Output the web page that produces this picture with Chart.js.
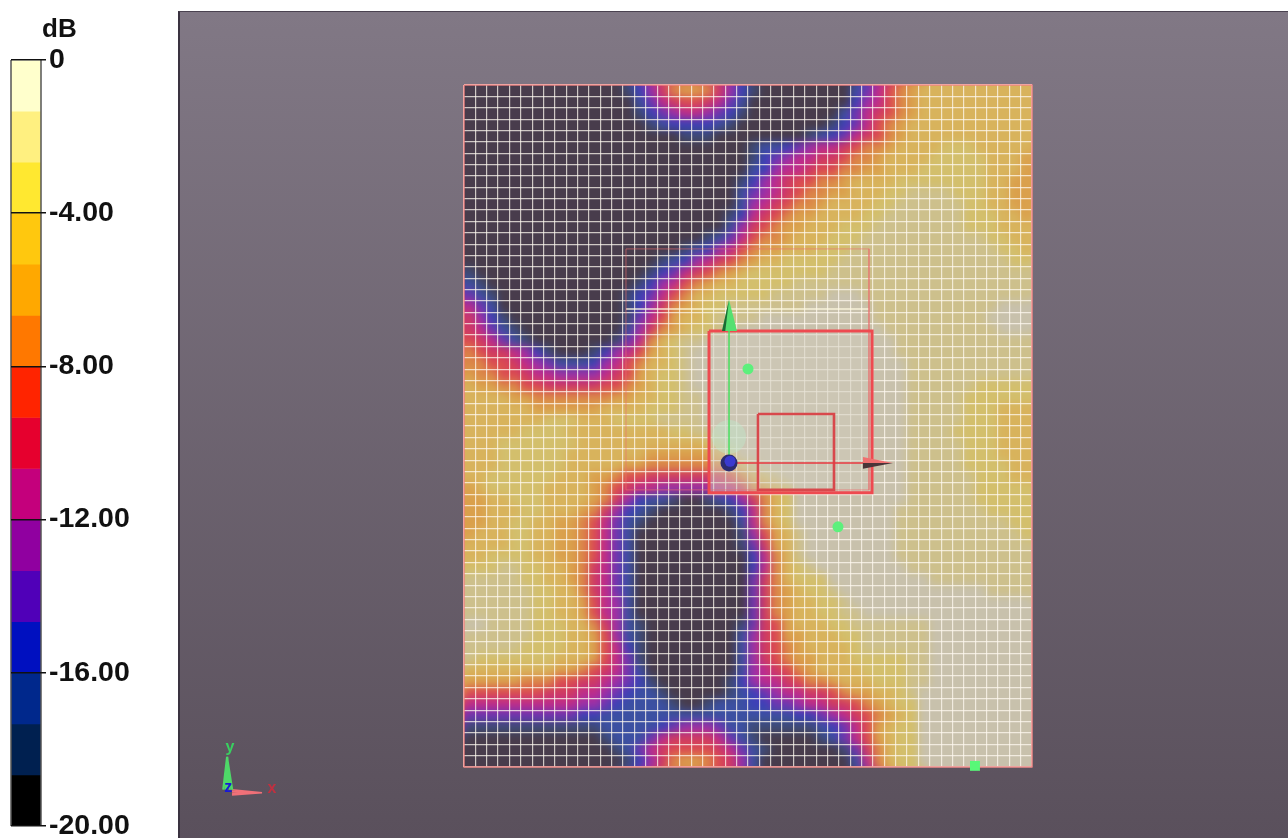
<!DOCTYPE html>
<html><head><meta charset="utf-8">
<script src="https://cdn.jsdelivr.net/npm/chart.js@4"></script>
<style>
html,body{margin:0;padding:0;background:#fff;width:1288px;height:838px;overflow:hidden}
#panel{position:absolute;left:178px;top:11px;width:1110px;height:827px;box-sizing:border-box;border-left:2px solid #3a3240;border-top:1px solid #4a4250;background:linear-gradient(#817885,#5a505c)}
#field{position:absolute;left:178px;top:12px;filter:blur(.6px)}
#bar{position:absolute;left:0;top:0;filter:blur(.35px)}
#unit{position:absolute;left:42px;top:13px;font:bold 26px "Liberation Sans";color:#111}
</style></head><body>
<div id="panel"></div>
<canvas id="field" width="1110" height="826"></canvas>
<canvas id="bar" width="178" height="838"></canvas>
<div id="unit">dB</div>
<script>
// colour-bar bands, 0 dB at the top, -20 dB at the bottom
const legendColors=['#FFFFCC','#FFF080','#FFE830','#FFC80E','#FFA800','#FF7800','#FF2400','#E6002E','#C4007C','#9000A0','#5000B8','#0010C0','#00288C','#002050','#000000'];
const bandStep=-1.3333;
const barTicks=[0,-4,-8,-12,-16,-20];
// the same bands as they look on the translucent surface
const surfaceColors=['#C8C1AC','#CDC08C','#D3BF6C','#D8B35C','#DAA04C','#DB8648','#DB4C50','#CF3A62','#BE2C8C','#9C30A8','#6C36B2','#3C40B8','#3C50A2','#3E4B76','#483C4C'];
// surface grid: one string per row (top to bottom), one band per cell (0-9,a-e); "e*14" means 14 cells of band e
const bandRows=[
"e*14 db97544579bd e*8 ca8654 3*10",
"e*15 ca876678ac e*9 b98654 3*10",
"e*15 dba98 89abd e*8 ca87654 3*10",
"e*16 dcbbbbcd e*8 dba8654 3*11",
"e*19 ddd e*8 dcba87654 3*11",
"e*25 dccba98876554 3333 222 33333",
"e*25 dba988776554 3333 22222 333 4",
"e*25 cb9887665544 333 222222 333 4",
"e*24 db98766554 3333 22222222 33 44",
"e*24 ca98765544 333 22 1111 222 33 44",
"e*24 c9876554 3333 22 111111 22 33 44",
"e*23 db876544 3333 22 1111111 222 33 4",
"e*23 c976544 333 222 11111111 222 333",
"e*21 dca86554 333 222 1*11 22 33",
"e*19 dcb986544 333 222 1*13 22 3",
"e*17 dcb987654 33 22222 1*15 22",
"d e*15 dba876543 2*7 1*18",
"cd e*13 db9865433 2*5 1*21",
"acd e*11 dba86533 2*5 1*5 000 1*15",
"8ac e*11 db97543 22 1*7 0*6 1*11 000",
"79bd e*10 da864332 1111 0*10 1*10 0000",
"78acd e*9 c9754322 11 0*13 1*10 000",
"678acd e*7 da853211 0*17 1*12",
"567789bdeeedb9864321 0*18 1*12",
"55667 89acccb98653321 0*19 1*11",
"45566788 9999 876 4 3 22 1 0*19 1*11",
"3445566 77777 665 43 221 0*19 1*6 2*5",
"3333 44 5555555 44 33 22 11 0*18 11111 222222",
"333333 444444 3333 222 11 0*18 11111 222 333",
"3333333 222 333 2222 1111 0*18 11111 222 333",
"33333 2222 3*9 22 11 0*17 1111 2222 333",
"333 2*7 3*11 21 0*16 11111 222 333",
"333 2*6 3*7 4*6 32 0*15 11111 222 333",
"333 2*6 3*5 44 5*7 421 0*13 11111 2222 33",
"33 2*6 333 44 5 66 7*7 65321 0*11 1*6 222 33",
"43 2*5 3333 4567 88 9*5 88 75432 0*10 1*6 2*5",
"44 33 222 3333 4579b cc d ee d cb97532 0*10 1*6 2*5",
"4433322333 4579bcd e*6 db8532 0*9 1*8 2222",
"4433223344568acd e*8 c8532 0*9 1*10 22",
"433322334 4568ac e*9 d96431 0*8 1*11 2",
"333322334 4568ac e*9 da7431 0*8 1*12",
"332222334 4568ac e*10 b8531 0*8 1*12",
"222112233 4578ac e*10 b85321 0*8 1*11",
"1*5 22 33 4578ac e*10 a753222 0*9 1*9",
"1*6 22 33 578ac e*10 a7543221 0*13 1111",
"1*6 22 33 4689c e*10 a75433221 0*16",
"1*6 22 33 4689c e*10 a754332211 0*15",
"00 1111 222 33 579cd e*8 da76433322 1*7 0*9",
"1*6 222 33 469cd e*8 c9764433322 1*6 0*9",
"1*5 2222 33 468bd e*8 c9765433332 1*6 0*9",
"1 2*7 333 468ad e*8 c97654433322222 11 0*9",
"3*8 44 5678ac e*8 c98765433332222 11 0*9",
"44444 555 66 77 89abd e*6 db9887655433 3222 11 0*9",
"6*7 777 88 9ab cc d e*5 dcba98877654433 2 1 0*10",
"8*10 99 ab cccc d ee d cccbbaa98877654322 0*10",
"a*10 bb c*15 ccbba98765432 0*10",
"d*12 ccc ccba999accdddddd cba864322 0*10",
"e*12 dcc ca87777 8ac deeeee dca864322 0*10",
"e*13 dca87666678acd e*6 da75322 0*10",
"e*14 db975445679c e*8 c85322 0*10"
];
const gridCols=50, gridRows=60;
// overlays, in surface-grid units
const thinBox=[[14.26,14.42],[35.65,14.42],[35.65,35.62],[14.26,35.62],[14.26,14.42]];
const thickBox=[[21.57,21.64],[35.92,21.64],[35.92,35.88],[21.57,35.88],[21.57,21.64]];
const innerBox=[[25.88,28.94],[32.57,28.94],[32.57,35.62],[25.88,35.62],[25.88,28.94]];
const paleLine=[[14.26,19.7],[35.65,19.7]];
const surfaceFrame=[[0,0],[50,0],[50,60],[0,60],[0,0]];
const yAxisLine=[[23.33,33.25],[23.33,21.6]];
const xAxisLine=[[23.33,33.25],[35.3,33.25]];
const yCone=[[22.71,21.64],[23.33,18.9],[24.03,21.64]];
const yConeShade=[[22.71,21.64],[23.33,18.9],[23.0,21.64]];
const xConeTop=[[35.12,32.72],[37.76,33.25],[35.12,33.25]];
const xConeLow=[[35.12,33.77],[37.76,33.25],[35.12,33.25]];
const origin=[[23.33,33.25]];
const originShine=[[23.42,33.1]];
const glow=[[23.33,30.96]];
const probeDots=[[25.0,24.98],[32.92,38.87]];
const probeSquare=[[44.98,59.9]];
const triadY=[[-21.2,62],[-20.86,59.1],[-21.0,62],[-20.86,59.1],[-20.8,62],[-20.86,59.1],[-20.6,62],[-20.86,59.1],[-20.4,62]];
const triadX=[[-20.42,62],[-17.78,62.27],[-20.42,62.15],[-17.78,62.27],[-20.42,62.3],[-17.78,62.27],[-20.42,62.45]];
const triadZ=[[-20.8,62.05]];
const triadLabels=[['y',-20.6,58.3,'#39d060'],['x',-16.9,61.9,'#c03040'],['z',-20.75,61.85,'#1818d8']];

const expanded=bandRows.map(s=>s.split(' ').map(t=>t.includes('*')?t[0].repeat(+t.slice(2)):t).join(''));
const bad=expanded.map((s,i)=>s.length===gridCols?null:i+':'+s.length).filter(Boolean);
if(bad.length||expanded.length!==gridRows) throw new Error('row lengths '+bad.join(' ')+' rows '+expanded.length);
const cells=[],cellColors=[];
expanded.forEach((s,r)=>{for(let c=0;c<gridCols;c++){cells.push({x:c+.5,y:r+.5});cellColors.push(surfaceColors[parseInt(s[c],16)]);}});
const pts=a=>a.map(p=>({x:p[0],y:p[1]}));
const line=(a,color,w,extra)=>Object.assign({type:'scatter',data:pts(a),showLine:true,pointRadius:0,borderColor:color,borderWidth:w,tension:0,fill:false,order:5},extra||{});
const solid=(a,color,extra)=>line(a,'rgba(0,0,0,0)',0,Object.assign({fill:'shape',backgroundColor:color},extra||{}));
const dot=(a,color,r,extra)=>Object.assign({type:'scatter',data:pts(a),pointRadius:r,pointBackgroundColor:color,pointBorderWidth:0,order:1},extra||{});

const smooth={id:'smooth',
 afterDatasetDraw(chart,args){
  if(args.index!==0) return;
  const a=chart.chartArea,p=14,w=Math.round(a.right-a.left),h=Math.round(a.bottom-a.top),l=Math.round(a.left),t=Math.round(a.top);
  const tmp=document.createElement('canvas');tmp.width=w+2*p;tmp.height=h+2*p;
  const tc=tmp.getContext('2d');
  tc.drawImage(chart.canvas,l,t,w,h,0,0,w+2*p,h+2*p);
  tc.drawImage(chart.canvas,l,t,w,h,p,p,w,h);
  const c=chart.ctx;c.save();c.beginPath();c.rect(l,t,w,h);c.clip();
  c.filter='blur(4.2px)';c.drawImage(tmp,l-p,t-p);c.restore();
  chart.scales.x.drawGrid(a);chart.scales.y.drawGrid(a);
 },
 afterDraw(chart){
  const c=chart.ctx,sx=chart.scales.x,sy=chart.scales.y;
  c.save();c.font='bold 16px "Liberation Sans"';c.textAlign='center';c.textBaseline='middle';
  triadLabels.forEach(l=>{c.fillStyle=l[3];c.fillText(l[0],sx.getPixelForValue(l[1]),sy.getPixelForValue(l[2]));});
  c.restore();
 }};
const gridLook={color:'rgba(255,250,240,.74)',lineWidth:1.2,drawTicks:false,z:-1};
new Chart(document.getElementById('field'),{
 type:'scatter',
 data:{datasets:[
  {data:cells,pointStyle:'rect',pointRadius:8.6,pointBackgroundColor:cellColors,pointBorderWidth:0,order:10},
  solid(thickBox,'rgba(208,203,188,.5)',{order:9}),
  dot(glow,'rgba(190,235,205,.4)',17,{order:8}),
  line(thinBox,'rgba(235,110,110,.6)',1),
  line(paleLine,'rgba(255,250,225,.65)',2),
  line(surfaceFrame,'rgba(236,120,120,.85)',1.5,{clip:false}),
  line(thickBox,'#EE4A50',3,{order:4}),
  line(innerBox,'#D8484C',2.6,{order:4}),
  line(yAxisLine,'#48E060',1.5,{order:3}),
  line(xAxisLine,'#E83840',1.5,{order:3}),
  solid(yCone,'#55E070',{order:2}),
  solid(yConeShade,'#1C6A34',{order:1.5}),
  solid(xConeTop,'#F07070',{order:2}),
  solid(xConeLow,'#4A3438',{order:2}),
  dot(origin,'#2C2C70',8.5,{order:1.2}),
  dot(originShine,'#3A3AD0',5.5,{order:1}),
  dot(probeDots,'#5CF07C',5.5),
  dot(probeSquare,'#58F878',7,{pointStyle:'rect',clip:false}),
  line(triadY,'#4ED868',2,{clip:false}),
  line(triadX,'#F07078',1.6,{clip:false}),
  dot(triadZ,'#1818D8',4,{clip:false})
 ]},
 options:{responsive:false,animation:false,events:[],
  layout:{padding:{left:286,top:73,right:256,bottom:71}},
  plugins:{legend:{display:false},tooltip:{enabled:false}},
  scales:{
   x:{type:'linear',min:0,max:gridCols,grid:gridLook,border:{display:false},ticks:{display:false,stepSize:1,autoSkip:false}},
   y:{type:'linear',min:0,max:gridRows,reverse:true,grid:gridLook,border:{display:false},ticks:{display:false,stepSize:1,autoSkip:false}}
  }},
 plugins:[smooth]
});
const barFrame={id:'barFrame',afterDatasetsDraw(chart){
  const c=chart.ctx,a=chart.chartArea;c.save();c.strokeStyle='#555';c.lineWidth=1.5;
  c.beginPath();c.moveTo(a.left,a.top);c.lineTo(a.left,a.bottom);c.moveTo(a.right,a.top);c.lineTo(a.right,a.bottom);c.stroke();c.restore();
}};
new Chart(document.getElementById('bar'),{
 type:'bar',
 data:{labels:['dB'],datasets:legendColors.map(col=>({data:[bandStep],backgroundColor:col,barPercentage:1,categoryPercentage:1,borderWidth:0}))},
 options:{responsive:false,animation:false,events:[],
  layout:{padding:{left:11,top:60,right:0,bottom:12}},
  plugins:{legend:{display:false},tooltip:{enabled:false}},
  scales:{
   x:{stacked:true,display:false},
   y:{stacked:true,position:'right',min:-20,max:0,
      afterFit(s){s.width=137;s.paddingBottom=0;s.paddingTop=0;},
      afterBuildTicks(s){s.ticks=barTicks.map(v=>({value:v}));},
      border:{display:false},
      grid:{color:'#111',lineWidth:1.5,z:1,tickLength:5,tickColor:'#111'},
      ticks:{padding:3,color:'#111',autoSkip:false,font:{family:'"Liberation Sans"',weight:'bold',size:28.5},callback:v=>v===0?'0':v.toFixed(2)}}
  }},
 plugins:[barFrame]
});
</script>
</body></html>
